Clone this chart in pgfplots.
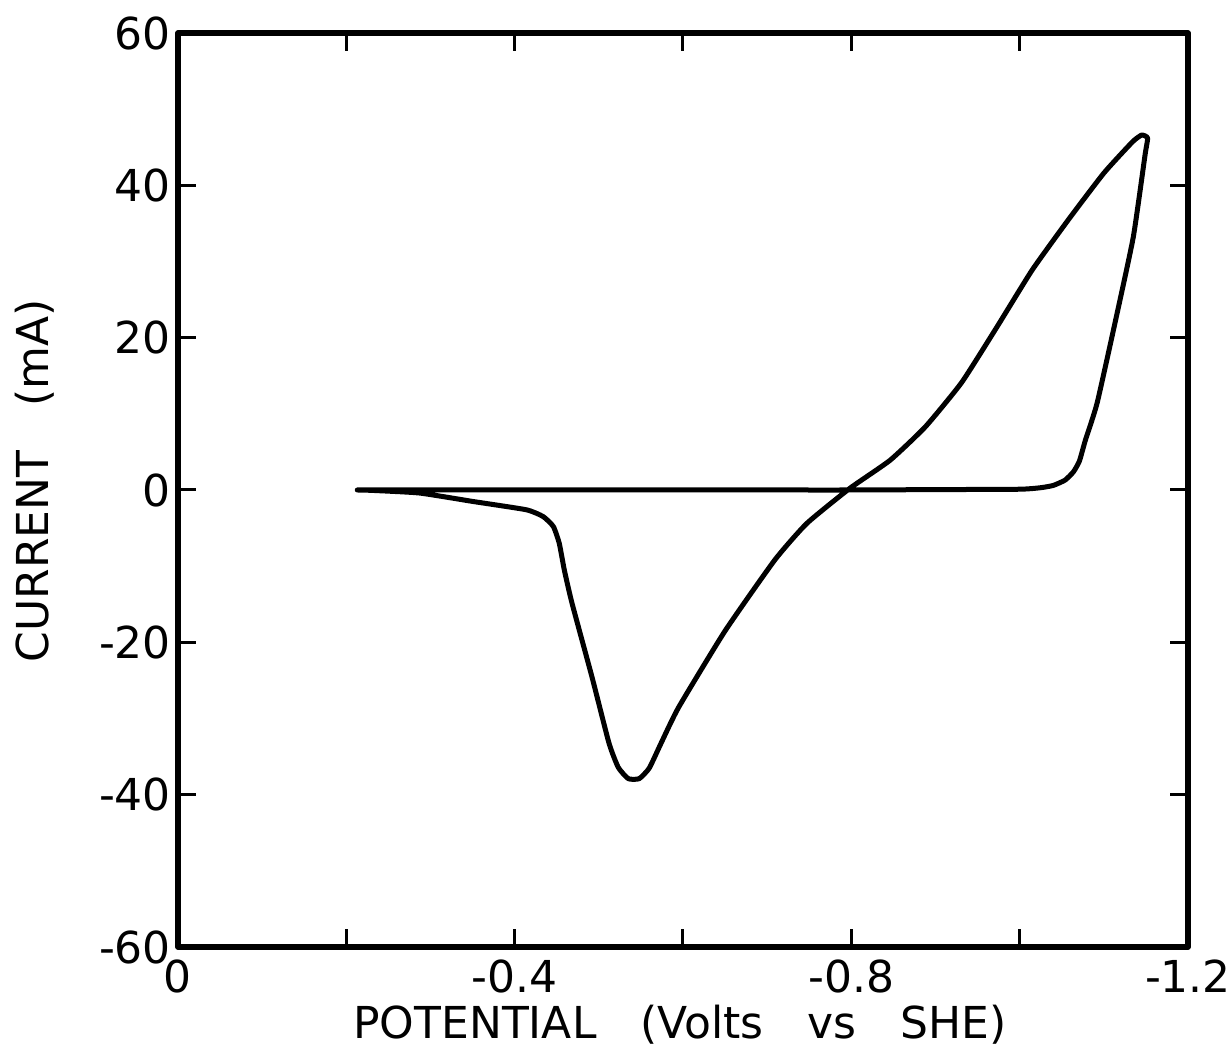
\documentclass[border=0pt]{standalone}
\usepackage{fontspec}
\setmainfont{DejaVu Sans}
\usepackage{pgfplots}
\pgfplotsset{compat=1.18}
\begin{document}
\begin{tikzpicture}
\begin{axis}[
  scale only axis, width=505pt, height=457pt,
  x dir=reverse, xmin=-1.2, xmax=0, ymin=-60, ymax=60,
  xtick={0,-0.2,-0.4,-0.6,-0.8,-1.0,-1.2},
  xticklabels={0,,-0.4,,-0.8,,-1.2},
  ytick={-60,-40,-20,0,20,40,60},
  yticklabels={-60,-40,-20,0,20,40,60},
  tick pos=both, tick align=inside, major tick length=9pt,
  axis line style={line width=2.7pt, line join=round},
  every tick/.style={black, line width=1.5pt},
  tick label style={font=\fontsize{22}{26}\selectfont},
  xticklabel style={yshift=-3pt},
  label style={font=\fontsize{22}{26}\selectfont},
  xlabel={POTENTIAL\quad(Volts\quad vs\quad SHE)},
  ylabel={CURRENT\quad(mA)},
  xlabel style={at={(axis description cs:0.497,-0.085)}, anchor=center},
  ylabel style={at={(axis description cs:-0.142,0.51)}, anchor=center},
]
\addplot[black, line width=2.5pt, line join=round, line cap=round, smooth, tension=0.3] coordinates {
(-0.213,0) (-0.30,0.0) (-0.40,0.0) (-0.50,0.0) (-0.60,0.0) (-0.70,0.0)
(-0.80,0.0) (-0.90,0.05) (-1.00,0.1) (-1.025,0.3) (-1.040,0.6) (-1.054,1.3)
(-1.064,2.4) (-1.071,3.8) (-1.078,6.5) (-1.092,11.4) (-1.114,22.3)
(-1.135,33.2) (-1.149,44.0) (-1.152,46.2) (-1.145,46.6) (-1.134,45.7)
(-1.100,41.6) (-1.058,35.5) (-1.015,28.9) (-0.973,21.4) (-0.931,14.1)
(-0.888,8.3) (-0.846,3.9) (-0.798,0.2) (-0.747,-4.4) (-0.709,-9.2)
(-0.65,-18.5) (-0.595,-28.5) (-0.575,-33.0) (-0.560,-36.5) (-0.548,-37.9)
(-0.535,-37.9) (-0.523,-36.4) (-0.512,-33.2) (-0.492,-24.6) (-0.468,-14.8)
(-0.459,-10.5) (-0.453,-7.0) (-0.446,-4.8) (-0.434,-3.5) (-0.414,-2.6)
(-0.35,-1.5) (-0.287,-0.4) (-0.230,-0.05) (-0.213,0)
};
\end{axis}
\pgfresetboundingbox
\path ([shift={(-89pt,-52pt)}]current axis.south west) rectangle ([shift={(22pt,16.5pt)}]current axis.north east);
\end{tikzpicture}
\end{document}
